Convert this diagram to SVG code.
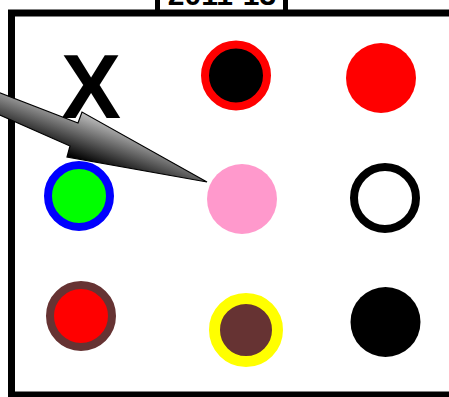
<svg xmlns="http://www.w3.org/2000/svg" width="449" height="397" viewBox="0 0 449 397">
<defs>
<style>
.lbl{font-family:"Liberation Sans",Arial,sans-serif;font-weight:bold;fill:#000}
</style>
<linearGradient id="ag" gradientUnits="userSpaceOnUse" x1="100" y1="105" x2="80" y2="160">
<stop offset="0" stop-color="#f4f4f4"/>
<stop offset="1" stop-color="#000"/>
</linearGradient>
</defs>
<rect width="449" height="397" fill="#fff"/>
<rect id="frame" x="11.5" y="13" width="460" height="382" fill="none" stroke="#000" stroke-width="7"/>
<g id="title">
<rect x="157.5" y="-30" width="128" height="42" fill="#fff" stroke="#000" stroke-width="5"/>
<text class="lbl" x="222" y="5" font-size="30" text-anchor="middle">2011-13</text>
</g>
<g id="x-label"><text class="lbl" x="91" y="118" font-size="90" text-anchor="middle">X</text></g>
<g id="n1"><circle cx="236" cy="75.5" r="31" fill="#000" stroke="#f00" stroke-width="8"/></g>
<g id="n2"><circle cx="381" cy="78" r="35" fill="#f00"/></g>
<g id="n3"><circle cx="79" cy="196" r="31" fill="#0f0" stroke="#00f" stroke-width="8"/></g>
<g id="n4"><circle cx="242" cy="199" r="35" fill="#ff99cc"/></g>
<g id="n5"><circle cx="385" cy="198" r="31" fill="#fff" stroke="#000" stroke-width="8"/></g>
<g id="n6"><circle cx="81" cy="316" r="31" fill="#f00" stroke="#663333" stroke-width="8"/></g>
<g id="n7"><circle cx="246" cy="330" r="31.5" fill="#663333" stroke="#ff0" stroke-width="11"/></g>
<g id="n8"><circle cx="385.5" cy="322" r="35" fill="#000"/></g>
<g id="connectors">
<polygon points="-5,91 78,123 82,112 207,182 67,157 70,146 -5,113" fill="url(#ag)" stroke="#000" stroke-width="1.2" stroke-linejoin="miter"/>
</g>
</svg>
